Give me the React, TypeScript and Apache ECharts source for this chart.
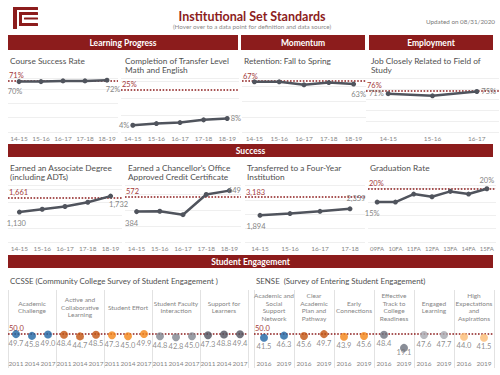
import React, { useEffect, useRef } from "react";
import * as echarts from "echarts";

// ---------- data ----------
const lineYears = ["14-15", "15-16", "16-17", "17-18", "18-19"];
const jobYears = ["14-15", "15-16", "16-17"];
const transferYears = ["14-15", "15-16", "16-17", "17-18"];
const gradCohorts = ["09FA", "10FA", "11FA", "12FA", "13FA", "14FA", "15FA"];

const courseSuccess = [70, 70, 71, 71, 72];
const courseSuccessTarget = 71;
const transferMathEnglish = [4, 5, 5.6, 7.2, 8];
const transferMathEnglishTarget = 25;
const retention = [66, 66, 62, 65, 63];
const retentionTarget = 67;
const jobRelated = [71, 67, 75];
const jobRelatedTarget = 76;
const associateDegrees = [1130, 1235, 1340, 1500, 1732];
const associateTarget = 1661;
const certificates = [384, 388, 345, 600, 649];
const certificateTarget = 572;
const transfers = [1894, 2020, 2180, 2359];
const transferTarget = 3183;
const graduationRate = [15, 15, 18, 17, 19, 18, 20];
const graduationTarget = 20;

const ccsseGroups = [
  "Academic\nChallenge",
  "Active and\nCollaborative\nLearning",
  "Student Effort",
  "Student Faculty\nInteraction",
  "Support for\nLearners",
];
const ccsseYears = ["2011", "2014", "2017"];
const ccsseScores = [
  [49.7, 45.8, 49.0],
  [48.4, 44.7, 48.5],
  [47.3, 45.0, 49.9],
  [44.8, 42.8, 45.0],
  [47.3, 48.8, 49.4],
];
const ccsseBenchmark = 50;

const senseGroups = [
  "Academic and\nSocial\nSupport\nNetwork",
  "Clear\nAcademic\nPlan and\nPathway",
  "Early\nConnections",
  "Effective\nTrack to\nCollege\nReadiness",
  "Engaged\nLearning",
  "High\nExpectations\nand\nAspirations",
];
const senseYears = ["2016", "2019"];
const senseScores = [
  [41.5, 46.3],
  [45.6, 49.7],
  [43.9, 45.6],
  [48.4, 19.1],
  [47.6, 47.7],
  [44.0, 41.5],
];
const senseBenchmark = 50;

// ---------- styles ----------
const FONT = "Lato";
const RED = "#8c1c1c";
const LINE = "#50545d";
const GREY = "#858585";
const ccsseColors = ["#1e64a2", "#c2520f", "#f48517", "#7f848e", "#4f505c"];
const senseColors = ["#1e64a2", "#c2520f", "#f48517", "#6c717d", "#a6a9b0", "#fbbb74"];

const pct = (v: number) => `${Math.round(v)}%`;
const cnt = (v: number) => Math.round(v).toLocaleString("en-US");

type LC = {
  cats: string[];
  values: number[];
  target: number;
  fmt: (v: number) => string;
  grid: any;
  max: number;
  interval: number;
  first: any;
  last: any;
  catFont?: number;
};

const lineCharts: LC[] = [
  { cats: lineYears, values: courseSuccess, target: courseSuccessTarget, fmt: pct,
    grid: { left: 8, top: 78, width: 110, height: 54 }, max: 75, interval: 20,
    first: { position: "bottom", offset: [-4, -2] }, last: { position: "bottom", offset: [6, -2] } },
  { cats: lineYears, values: transferMathEnglish, target: transferMathEnglishTarget, fmt: pct,
    grid: { left: 121, top: 78, width: 118, height: 54 }, max: 32, interval: 10,
    first: { position: "left", distance: 1 }, last: { position: "right", distance: 1 } },
  { cats: lineYears, values: retention, target: retentionTarget, fmt: pct,
    grid: { left: 242, top: 78, width: 124, height: 54 }, max: 71, interval: 20,
    first: null, last: { position: "bottom", offset: [5, -1] } },
  { cats: jobYears, values: jobRelated, target: jobRelatedTarget, fmt: pct,
    grid: { left: 366, top: 78, width: 133, height: 54 }, max: 100, interval: 20,
    first: { position: "left", distance: 2 }, last: { position: "right", distance: 2 } },
  { cats: lineYears, values: associateDegrees, target: associateTarget, fmt: cnt,
    grid: { left: 8, top: 185, width: 114, height: 57 }, max: 2150, interval: 500,
    first: { position: "bottom", offset: [-3, 0] }, last: { position: "bottom", offset: [8, -3] } },
  { cats: lineYears, values: certificates, target: certificateTarget, fmt: cnt,
    grid: { left: 125, top: 185, width: 116, height: 57 }, max: 720, interval: 200,
    first: { position: "bottom", offset: [-5, 0] }, last: { position: "right", distance: -4 } },
  { cats: transferYears, values: transfers, target: transferTarget, fmt: cnt,
    grid: { left: 245, top: 185, width: 120, height: 57 }, max: 4050, interval: 1000,
    first: { position: "bottom", offset: [-4, 0] }, last: { position: "top", offset: [6, 1] } },
  { cats: gradCohorts, values: graduationRate, target: graduationTarget, fmt: pct,
    grid: { left: 368, top: 185, width: 128, height: 57 }, max: 21.4, interval: 5,
    first: { position: "bottom", offset: [-5, 0] }, last: { position: "top", distance: 2 }, catFont: 6 },
];

function buildOption() {
  const grid: any[] = [];
  const xAxis: any[] = [];
  const yAxis: any[] = [];
  const series: any[] = [];

  lineCharts.forEach((c, i) => {
    grid.push({ ...c.grid, containLabel: false });
    xAxis.push({
      gridIndex: i, type: "category", data: c.cats, boundaryGap: true,
      axisLine: { show: false }, axisTick: { show: false }, splitLine: { show: false },
      axisLabel: { fontSize: c.catFont || 6.5, color: GREY, margin: 3, interval: 0, fontFamily: FONT },
    });
    yAxis.push({
      gridIndex: i, type: "value", min: 0, max: c.max, interval: c.interval,
      axisLabel: { show: false }, axisLine: { show: false }, axisTick: { show: false },
      splitLine: { show: true, lineStyle: { color: "#efefef", width: 1 } },
    });
    const n = c.values.length;
    series.push({
      type: "line", xAxisIndex: i, yAxisIndex: i,
      symbol: "circle", symbolSize: 5,
      lineStyle: { color: LINE, width: 2.5 },
      itemStyle: { color: LINE },
      z: 3,
      data: c.values.map((v, k) => {
        const cfg = k === 0 ? c.first : k === n - 1 ? c.last : null;
        return {
          value: v,
          label: cfg
            ? { show: true, ...cfg, formatter: () => c.fmt(v), fontSize: 7.5, color: GREY, fontFamily: FONT }
            : { show: false },
        };
      }),
      markLine: {
        silent: true, symbol: ["none", "none"],
        lineStyle: { type: "dotted", color: RED, width: 1.6 },
        label: {
          position: "insideStartTop", formatter: () => c.fmt(c.target),
          color: "#a33a3a", fontSize: 7.5, fontFamily: FONT, distance: 1,
        },
        data: [{ yAxis: c.target }],
        z: 2,
      },
    });
  });

  const dotCharts = [
    { groups: ccsseGroups, years: ccsseYears, scores: ccsseScores, colors: ccsseColors, bench: ccsseBenchmark,
      grid: { left: 8, top: 290, width: 240, height: 78 } },
    { groups: senseGroups, years: senseYears, scores: senseScores, colors: senseColors, bench: senseBenchmark,
      grid: { left: 254, top: 290, width: 240, height: 78 } },
  ];

  dotCharts.forEach((d) => {
    const gi = grid.length;
    grid.push({ ...d.grid, containLabel: false });
    const cats: string[] = [];
    d.groups.forEach(() => d.years.forEach((y) => cats.push(y)));
    const yearAxis = xAxis.length;
    xAxis.push({
      gridIndex: gi, type: "category", data: cats, boundaryGap: true, position: "bottom", offset: -10,
      axisLine: { show: false, onZero: false }, axisTick: { show: false }, splitLine: { show: false },
      axisLabel: { margin: 2, fontSize: 6.5, color: GREY, interval: 0, fontFamily: FONT, hideOverlap: false },
    });
    xAxis.push({
      gridIndex: gi, type: "category", data: d.groups, boundaryGap: true, position: "top",
      axisLine: { show: false, onZero: false }, axisTick: { show: false },
      splitLine: { show: true, interval: 0, lineStyle: { color: "#e2e2e2", width: 1 } },
      axisLabel: {
        inside: true, margin: 17, verticalAlign: "middle", align: "center",
        fontSize: 6.5, lineHeight: 7.7, color: GREY, interval: 0, fontFamily: FONT,
      },
    });
    const yi = yAxis.length;
    yAxis.push({
      gridIndex: gi, type: "value", min: -25.6, max: 147.8,
      axisLabel: { show: false }, axisLine: { show: false }, axisTick: { show: false },
      splitLine: { show: false },
    });
    const data: any[] = [];
    d.scores.forEach((row, g) =>
      row.forEach((v, k) => {
        data.push({
          value: [g * d.years.length + k, v],
          itemStyle: { color: d.colors[g] },
          label: v < 30 ? { distance: -3 } : undefined,
        });
      })
    );
    series.push({
      type: "scatter", xAxisIndex: yearAxis, yAxisIndex: yi,
      symbol: "circle", symbolSize: 8, z: 3,
      label: {
        show: true, position: "bottom", distance: 1, fontSize: 7.5, color: "#707070", fontFamily: FONT,
        formatter: (p: any) => p.value[1].toFixed(1),
      },
      data,
      markLine: {
        silent: true, symbol: ["none", "none"],
        lineStyle: { type: "dotted", color: RED, width: 1.6 },
        label: {
          position: "insideStartTop", formatter: () => d.bench.toFixed(1),
          color: "#a33a3a", fontSize: 7.5, fontFamily: FONT, distance: 1,
        },
        data: [{ yAxis: d.bench }],
        z: 2,
      },
    });
  });

  const header = (x: number, y: number, w: number, h: number, text: string) => [
    { type: "rect", shape: { x, y, width: w, height: h }, style: { fill: RED }, z: 1 },
    {
      type: "text", x: x + w / 2, y: y + h / 2, z: 2,
      style: { text, fill: "#ffffff", fontSize: 8.5, fontWeight: "bold", fontFamily: FONT, align: "center", verticalAlign: "middle" },
    },
  ];
  const title = (x: number, y: number, text: string, size = 8.3) => ({
    type: "text", x, y, z: 2,
    style: { text, fill: "#505050", fontSize: size, fontFamily: FONT, lineHeight: 9.5, align: "left", verticalAlign: "top" },
  });

  const logo = {
    type: "group", x: 13, y: 7,
    children: [
      [0, 0, 25, 3], [0, 0, 4, 22], [6, 5, 19, 3], [6, 5, 3, 14], [6, 16, 19, 3], [11, 10.5, 14, 2],
    ].map(([x, y, w, h]) => ({ type: "rect", shape: { x, y, width: w, height: h, r: 0.5 }, style: { fill: RED } })),
  };

  const graphic: any[] = [
    logo,
    { type: "text", x: 252, y: 16, style: { text: "Institutional Set Standards", fill: RED, fontSize: 12.5, fontWeight: "bold", fontFamily: FONT, align: "center", verticalAlign: "middle" } },
    { type: "text", x: 252, y: 26.5, style: { text: "(Hover over to a data point for definition and data source)", fill: "#8a8a8a", fontSize: 6.3, fontFamily: FONT, align: "center", verticalAlign: "middle" } },
    { type: "text", x: 426, y: 21.5, style: { text: "Updated on 08/31/2020", fill: "#7a7a7a", fontSize: 6.3, fontFamily: FONT, align: "left", verticalAlign: "middle" } },
    ...header(8, 35, 230, 15, "Learning Progress"),
    ...header(241, 35, 124, 15, "Momentum"),
    ...header(369, 35, 124, 15, "Employment"),
    ...header(8, 144, 485, 13, "Success"),
    ...header(8, 255, 485, 13, "Student Engagement"),
    title(10, 56, "Course Success Rate"),
    title(125, 56, "Completion of Transfer Level\nMath and English"),
    title(244, 56, "Retention: Fall to Spring"),
    title(371, 56, "Job Closely Related to Field of\nStudy"),
    title(10, 163, "Earned an Associate Degree\n(including ADTs)"),
    title(128, 163, "Earned a Chancellor's Office\nApproved Credit Certificate"),
    title(247, 163, "Transferred to a Four-Year\nInstitution"),
    title(370, 163, "Graduation Rate"),
    title(10, 276, "CCSSE (Community College Survey of Student Engagement )", 7.9),
    title(256, 276, "SENSE  (Survey of Entering Student Engagement)", 7.9),
  ];

  return {
    animation: false,
    backgroundColor: "#ffffff",
    textStyle: { fontFamily: FONT },
    grid, xAxis, yAxis, series, graphic,
  };
}

export default function App() {
  const ref = useRef<HTMLDivElement>(null);
  useEffect(() => {
    if (!ref.current) return;
    const chart = echarts.init(ref.current, undefined, { renderer: "svg" });
    chart.setOption(buildOption() as any);
    return () => chart.dispose();
  }, []);
  return <div ref={ref} style={{ position: "absolute", left: 0, top: 0, width: 500, height: 375 }} />;
}
